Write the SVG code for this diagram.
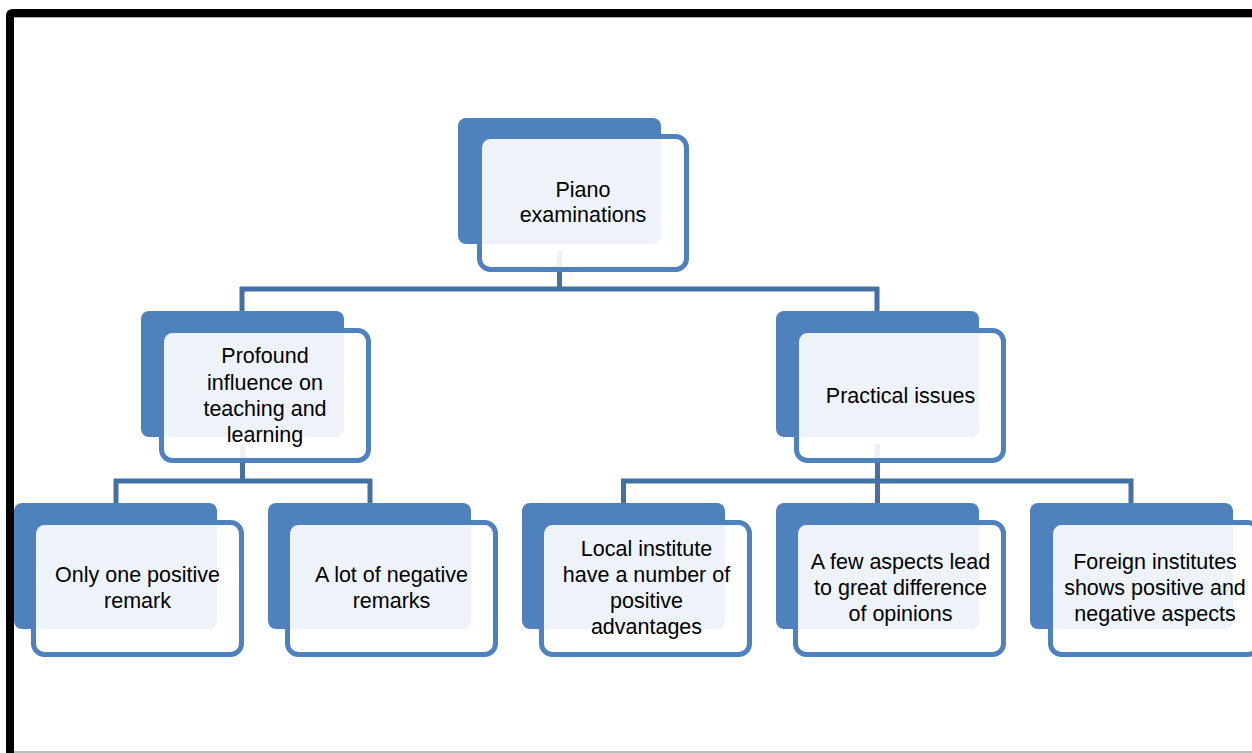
<svg xmlns="http://www.w3.org/2000/svg" width="1252" height="753" viewBox="0 0 1252 753">
<style>
.back{fill:#4F81BD;}
.front{fill:#FFFFFF;fill-opacity:0.9;stroke:#4F81BD;stroke-width:5;}
.lbl{font-family:"Liberation Sans",Arial,sans-serif;font-size:21.5px;fill:#000000;text-anchor:middle;}
.conn{stroke:#4471A4;stroke-width:5;fill:none;stroke-linecap:butt;}
</style>
<rect x="0" y="0" width="1252" height="753" fill="#FFFFFF"/>
<g id="frame">
<line x1="14" y1="752" x2="1252" y2="752" stroke="#A6A6A6" stroke-width="1.5"/>
<line x1="14" y1="17.5" x2="1252" y2="17.5" stroke="#B0B0B0" stroke-width="1"/>
<path d="M10 753 V16 Q10 13 13 13 H1256" fill="none" stroke="#000000" stroke-width="8"/>
</g>
<g id="connectors">
<path class="conn" d="M559.5 251 V289 M240 289 H879 M242 287 V311 M877 287 V311"/>
<path class="conn" d="M242.5 444 V481 M114 481 H372 M116 479 V503 M370 479 V503"/>
<path class="conn" d="M877.5 444 V481 M621 481 H1133.5 M623.5 479 V503 M877.5 479 V503 M1131 479 V503"/>
</g>
<g id="node-piano">
<rect class="back" x="458" y="118" width="203" height="126" rx="8"/>
<rect class="front" x="479.5" y="136.5" width="207" height="133" rx="11"/>
<text class="lbl" x="583" y="197">Piano</text>
<text class="lbl" x="583" y="222">examinations</text>
</g>
<g id="node-profound">
<rect class="back" x="141" y="311" width="203" height="126" rx="8"/>
<rect class="front" x="161.5" y="330.5" width="207" height="130" rx="11"/>
<text class="lbl" x="265" y="363">Profound</text>
<text class="lbl" x="265" y="389.5">influence on</text>
<text class="lbl" x="265" y="416">teaching and</text>
<text class="lbl" x="265" y="442">learning</text>
</g>
<g id="node-practical">
<rect class="back" x="776" y="311" width="203" height="126" rx="8"/>
<rect class="front" x="796.5" y="330.5" width="207" height="130" rx="11"/>
<text class="lbl" x="900.5" y="403">Practical issues</text>
</g>
<g id="node-only-one">
<rect class="back" x="14" y="503" width="203" height="126" rx="8"/>
<rect class="front" x="33.5" y="522.5" width="208" height="132" rx="11"/>
<text class="lbl" x="137.5" y="582">Only one positive</text>
<text class="lbl" x="137.5" y="608">remark</text>
</g>
<g id="node-lot-negative">
<rect class="back" x="268" y="503" width="203" height="126" rx="8"/>
<rect class="front" x="287.5" y="522.5" width="208" height="132" rx="11"/>
<text class="lbl" x="391.5" y="582">A lot of negative</text>
<text class="lbl" x="391.5" y="608">remarks</text>
</g>
<g id="node-local">
<rect class="back" x="522" y="503" width="203" height="126" rx="8"/>
<rect class="front" x="541.5" y="522.5" width="208" height="132" rx="11"/>
<text class="lbl" x="646.5" y="556">Local institute</text>
<text class="lbl" x="646.5" y="582">have a number of</text>
<text class="lbl" x="646.5" y="608">positive</text>
<text class="lbl" x="646.5" y="633.5">advantages</text>
</g>
<g id="node-few-aspects">
<rect class="back" x="776" y="503" width="203" height="126" rx="8"/>
<rect class="front" x="795.5" y="522.5" width="208" height="132" rx="11"/>
<text class="lbl" x="900.5" y="569">A few aspects lead</text>
<text class="lbl" x="900.5" y="595">to great difference</text>
<text class="lbl" x="900.5" y="621">of opinions</text>
</g>
<g id="node-foreign">
<rect class="back" x="1030" y="503" width="203" height="126" rx="8"/>
<rect class="front" x="1050.5" y="522.5" width="208" height="132" rx="11"/>
<text class="lbl" x="1155" y="569">Foreign institutes</text>
<text class="lbl" x="1155" y="595">shows positive and</text>
<text class="lbl" x="1155" y="621">negative aspects</text>
</g>
</svg>
